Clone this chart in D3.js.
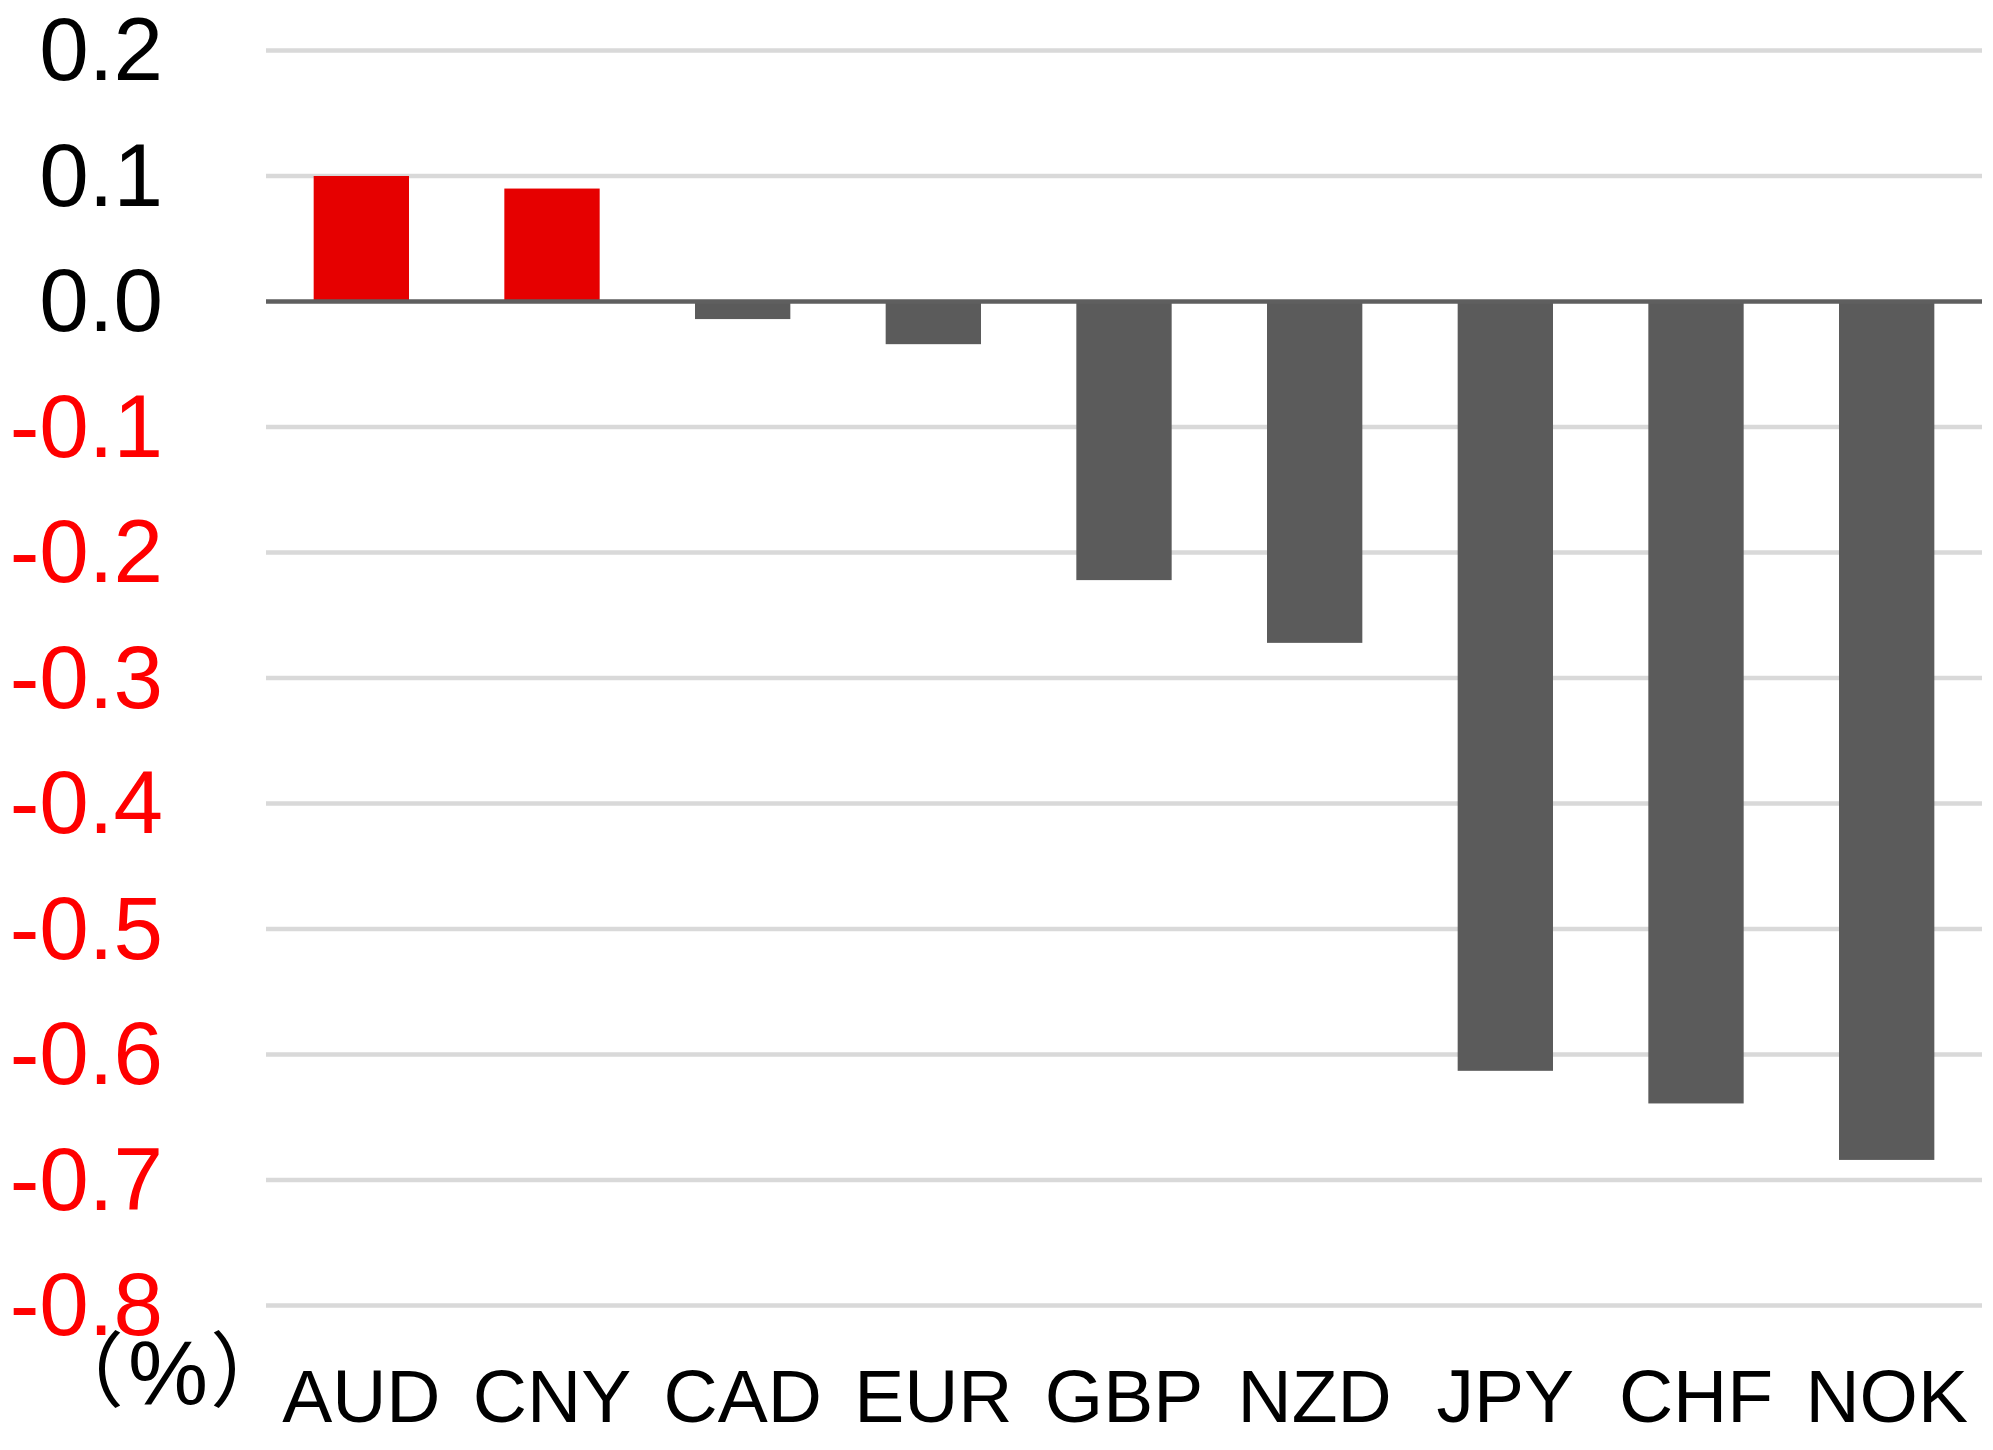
<!DOCTYPE html>
<html>
<head>
<meta charset="utf-8">
<script src="https://cdn.jsdelivr.net/npm/d3@7/dist/d3.min.js"></script>
<style>
  html, body { margin: 0; padding: 0; background: #ffffff; }
  svg { display: block; }
  text { font-family: "Liberation Sans", Arial, "Noto Sans CJK JP", sans-serif; }
</style>
</head>
<body>
<svg id="chart" width="1993" height="1450"></svg>
<script>
// ---- data ----
const categories = ["AUD", "CNY", "CAD", "EUR", "GBP", "NZD", "JPY", "CHF", "NOK"];
const values = [0.100, 0.090, -0.014, -0.034, -0.222, -0.272, -0.613, -0.639, -0.684];
const yTicks = [0.2, 0.1, 0.0, -0.1, -0.2, -0.3, -0.4, -0.5, -0.6, -0.7, -0.8];
const unitParts = ["（", "%", "）"];

// ---- layout ----
const plotLeft = 266, plotRight = 1982;
const yTop = 50.5, yBottom = 1305.5;

const svg = d3.select("#chart");

const x = d3.scaleBand()
  .domain(categories)
  .range([plotLeft, plotRight])
  .paddingInner(0.5)
  .paddingOuter(0.25);

const y = d3.scaleLinear()
  .domain([-0.8, 0.2])
  .range([yBottom, yTop]);

// gridlines
svg.append("g")
  .selectAll("line")
  .data(yTicks.filter(d => d !== 0))
  .join("line")
  .attr("x1", plotLeft)
  .attr("x2", plotRight)
  .attr("y1", d => y(d))
  .attr("y2", d => y(d))
  .attr("stroke", "#d9d9d9")
  .attr("stroke-width", 4.5);

// bars
svg.append("g")
  .selectAll("rect")
  .data(categories.map((c, i) => ({ c, v: values[i] })))
  .join("rect")
  .attr("x", d => x(d.c))
  .attr("width", x.bandwidth())
  .attr("y", d => y(Math.max(0, d.v)))
  .attr("height", d => Math.abs(y(d.v) - y(0)))
  .attr("fill", d => d.v >= 0 ? "#e60000" : "#5b5b5b");

// zero line
svg.append("line")
  .attr("x1", plotLeft)
  .attr("x2", plotRight)
  .attr("y1", y(0))
  .attr("y2", y(0))
  .attr("stroke", "#5f5f5f")
  .attr("stroke-width", 4.5);

// y axis labels
const yAxis = d3.axisLeft(y)
  .tickValues(yTicks)
  .tickFormat(d => d.toFixed(1))
  .tickSize(0)
  .tickPadding(0);

const gy = svg.append("g")
  .attr("transform", `translate(163,0)`)
  .call(yAxis);
gy.select(".domain").remove();
gy.selectAll("text")
  .attr("font-family", null)
  .attr("font-size", 89)
  .attr("dy", "0.33em")
  .attr("x", 0)
  .attr("fill", d => d < 0 ? "#ff0000" : "#000000");

// x axis labels
const xAxis = d3.axisBottom(x).tickSize(0).tickPadding(0);
const gx = svg.append("g")
  .attr("transform", `translate(0,1421.5)`)
  .call(xAxis);
gx.select(".domain").remove();
gx.selectAll("text")
  .attr("font-family", null)
  .attr("font-size", 75)
  .attr("y", 0)
  .attr("dy", 0)
  .attr("fill", "#000000");

// unit label
const unit = svg.append("text")
  .attr("x", 42)
  .attr("y", 1400)
  .attr("fill", "#000000");
unit.append("tspan").attr("font-size", 82).text(unitParts[0]);
unit.append("tspan").attr("font-size", 90).attr("dx", 4).attr("dy", 4).text(unitParts[1]);
unit.append("tspan").attr("font-size", 82).attr("dx", 2).attr("dy", -4).text(unitParts[2]);
</script>
</body>
</html>
